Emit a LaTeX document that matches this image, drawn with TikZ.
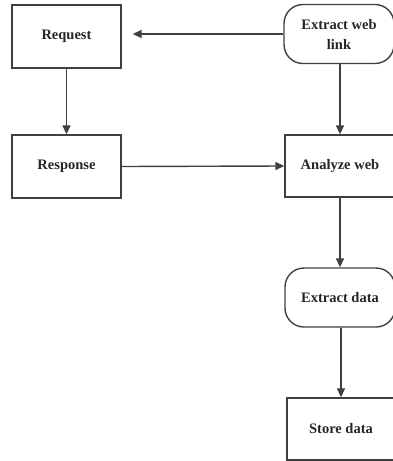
\documentclass[tikz,border=0pt]{standalone}
\usepackage{fontspec}
\setmainfont{Liberation Serif}
\usetikzlibrary{arrows.meta}
\begin{document}
\begin{tikzpicture}[x=1pt,y=-1pt,
  every node/.style={font=\fontsize{14.5}{20}\selectfont\bfseries, text=black!85, align=center, inner sep=0pt},
  sqbox/.style={draw=black!75, line width=1.4pt, minimum width=109pt, minimum height=63pt},
  rndbox/.style={draw=black!75, line width=1.4pt, minimum width=108pt, minimum height=59pt, rounded corners=19pt},
  arr/.style={draw=black!75, line width=1.4pt, -{Triangle[length=9pt,width=8pt]}}]
\useasboundingbox (0,0) rectangle (393,461);
\begin{scope}
\clip (0,0) rectangle (393,461);
\node[sqbox] (req) at (66.5,36.5) {Request};
\node[sqbox] (resp) at (66.5,166.5) {Response};
\node[rndbox, minimum width=110pt] (ewl) at (339,34) {Extract web\\link};
\node[sqbox, minimum width=110pt, minimum height=62pt] (aw) at (340,166) {Analyze web};
\node[rndbox, minimum width=110pt] (ed) at (340,297.5) {Extract data};
\node[sqbox, minimum width=108pt, minimum height=62pt] (sd) at (341,429) {Store data};
\end{scope}
\draw[arr, shorten >=11pt] (ewl.west) -- (req.east |- ewl.west);
\draw[arr] (req) -- (resp);
\draw[arr] (resp.east) -- (aw.west);
\draw[arr] (ewl.south -| aw.north) -- (aw.north);
\draw[arr] (aw) -- (ed);
\draw[arr] (ed.south -| sd.north) -- (sd.north);
\end{tikzpicture}
\end{document}
